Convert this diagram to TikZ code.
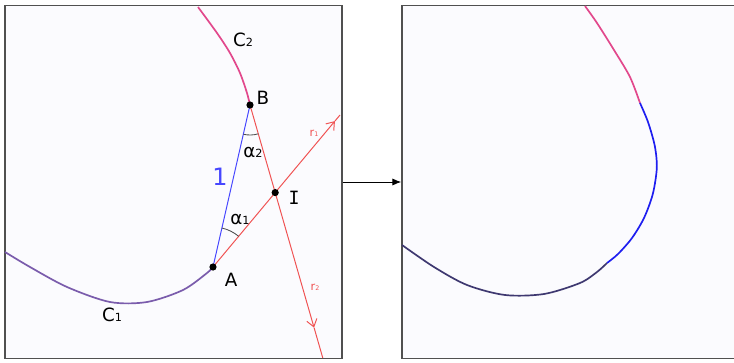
\documentclass[tikz,border=0pt]{standalone}
\usepackage{fontspec}
\setmainfont{DejaVu Sans}
\newfontfamily\monoI{DejaVu Sans Mono}
\usetikzlibrary{arrows.meta,angles,calc}
\definecolor{panelbg}{RGB}{251,251,254}
\definecolor{panelline}{RGB}{80,80,80}
\definecolor{pinkc}{RGB}{226,72,140}
\definecolor{purplec}{RGB}{122,92,172}
\definecolor{navyc}{RGB}{62,56,112}
\definecolor{bluec}{RGB}{30,30,240}
\definecolor{segc}{RGB}{70,70,255}
\definecolor{rayc}{RGB}{240,82,82}
\def\sub#1{{\fontsize{8}{8}\selectfont #1}}
\def\subr#1{{\fontsize{4.5}{5}\selectfont #1}}

\begin{document}
\begin{tikzpicture}[>={Straight Barb[length=1.8mm,width=2.6mm]},font=\fontsize{13}{15}\selectfont,
    panel/.style={draw=panelline,line width=1.2pt,fill=panelbg,inner sep=0pt,minimum height=8.825cm},
    dot/.style={circle,fill=black,inner sep=0pt,minimum size=1.8mm},
    ray/.style={rayc,line width=0.7pt},
    curve/.style={line width=1.2pt},
    anglearc/.style={draw=black!70,line width=0.6pt}]

    \useasboundingbox (0,0) rectangle (18.35,9.05);

    \node[panel,minimum width=8.425cm] (L) at (4.3375,4.5) {};
    \node[panel,minimum width=9cm] (R) at (14.55,4.5) {};
    \draw[-{Latex[length=2.2mm,width=1.8mm]},line width=0.6pt] (L.east) -- (R.west);

    % left panel
    \draw[curve,pinkc] plot[smooth] coordinates {(4.95,8.875) (5.425,8.225) (5.75,7.725) (6.0,7.225) (6.175,6.725) (6.25,6.425)};
    \draw[curve,purplec] plot[smooth] coordinates {(0.125,2.75) (0.75,2.375) (1.675,1.875) (2.75,1.5) (3.675,1.5) (4.575,1.8) (5.175,2.225) (5.325,2.375)};

    \coordinate (r1end) at (8.5,6.175);
    \coordinate (r2end) at (8.07,0.1);
    \coordinate (pA) at (5.325,2.375);
    \coordinate (pB) at (6.25,6.425);
    \coordinate (pI) at (intersection of pA--r1end and pB--r2end);
    \coordinate (r1tip) at ($(pA)!0.96!(r1end)$);
    \coordinate (r2tip) at ($(pB)!0.88!(r2end)$);

    \draw[segc,line width=0.7pt] (pA) -- (pB);
    \draw[ray,->] (pA) -- (r1tip);
    \draw[ray] (r1tip) -- (r1end);
    \draw[ray,->] (pB) -- (r2tip);
    \draw[ray] (r2tip) -- (r2end);

    \pic[anglearc,angle radius=0.75cm] {angle=pA--pB--pI};
    \pic[anglearc,angle radius=1cm] {angle=pI--pA--pB};

    \node[dot] (A) at (pA) {};
    \node[dot] (B) at (pB) {};
    \node[dot] (I) at (pI) {};

    \node (CB) at (6.075,8.05) {C\sub{2}};
    \node (LB) at (6.575,6.6) {B};
    \node (AB) at (6.325,5.25) {α\sub{2}};
    \node[segc,font=\fontsize{17}{19}\selectfont] (len) at (5.5,4.62) {1};
    \node (LI) at (7.35,4.1) {\monoI I};
    \node (AA) at (6.0,3.575) {α\sub{1}};
    \node (LA) at (5.775,2.05) {A};
    \node (CA) at (2.8,1.175) {C\sub{1}};
    \node[rayc,font=\fontsize{8}{9}\selectfont] (RA) at (7.85,5.725) {r\subr{1}};
    \node[rayc,font=\fontsize{8}{9}\selectfont] (RB) at (7.875,1.875) {r\subr{2}};

    % right panel
    \draw[curve,pinkc] plot[smooth] coordinates {(14.625,8.9) (14.925,8.475) (15.35,7.8) (15.75,7.125) (16.0,6.475)};
    \draw[curve,bluec] plot[smooth] coordinates {(16.0,6.475) (16.2,6.0) (16.37,5.4) (16.42,4.85) (16.32,4.2) (16.1,3.6) (15.8,3.1) (15.45,2.7) (15.175,2.475)};
    \draw[curve,navyc] plot[smooth] coordinates {(15.175,2.475) (14.925,2.25) (14.5,1.975) (13.6,1.7) (12.625,1.675) (11.675,1.925) (10.85,2.375) (10.05,2.925)};

\end{tikzpicture}
\end{document}
